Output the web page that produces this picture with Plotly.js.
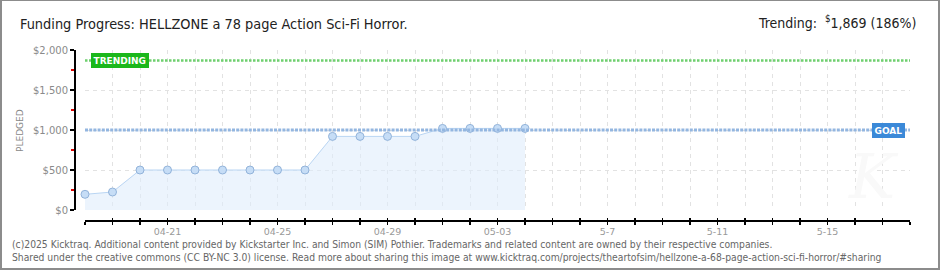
<!DOCTYPE html>
<html>
<head>
<meta charset="utf-8">
<script src="https://cdn.plot.ly/plotly-3.0.1.min.js"></script>
<style>
html,body{margin:0;padding:0;background:#fff;}
#wrap{position:relative;width:940px;height:270px;}
#chart{position:absolute;left:0;top:0;width:940px;height:270px;}
#frame{position:absolute;left:0;top:0;width:940px;height:270px;box-sizing:border-box;border-style:solid;border-color:#8c8c8c;border-width:1px 2px 2px 2px;pointer-events:none;}
</style>
</head>
<body>
<div id="wrap"><div id="chart"></div><div id="frame"></div></div>
<script>
// ---- data ----
const dates = ["2025-04-18","2025-04-19","2025-04-20","2025-04-21","2025-04-22","2025-04-23","2025-04-24","2025-04-25","2025-04-26","2025-04-27","2025-04-28","2025-04-29","2025-04-30","2025-05-01","2025-05-02","2025-05-03","2025-05-04"];
const pledged = [196,225,500,500,500,500,500,500,500,920,920,920,920,1020,1020,1020,1020];
const goal = 1000;
const trending = 1869;
const xRange = ["2025-04-18","2025-05-18"];
const tickDates = ["2025-04-21","2025-04-25","2025-04-29","2025-05-03","2025-05-07","2025-05-11","2025-05-15"];
const tickLabels = ["04-21","04-25","04-29","05-03","5-7","5-11","5-15"];
const yTicks = [0,500,1000,1500,2000];
const yTickLabels = ["$0","$500","$1,000","$1,500","$2,000"];
const titleText = "Funding Progress: HELLZONE a 78 page Action Sci-Fi Horror.";
const trendText = "Trending:  <sup>$</sup>1,869 (186%)";
const footer1 = "(c)2025 Kicktraq. Additional content provided by Kickstarter Inc. and Simon (SIM) Pothier. Trademarks and related content are owned by their respective companies.";
const footer2 = "Shared under the creative commons (CC BY-NC 3.0) license. Read more about sharing this image at www.kicktraq.com/projects/theartofsim/hellzone-a-68-page-action-sci-fi-horror/#sharing";

const W = 940, H = 270;
const L = 75, R = 30, T = 50, B = 49;
const pw = W - L - R, ph = H - T - B;
const px = x => (x - L) / pw;
const py = y => (H - B - y) / ph;
const dx = x => (x - 85) / (910 - 85);

const gridStyle = {gridcolor:"#e2e2e2", griddash:"4px,4px", gridwidth:1};

const traces = [
  {
    type:"scatter", mode:"lines+markers", x:dates, y:pledged,
    line:{color:"#b9d5f3", width:1},
    marker:{size:8, color:"#c6ddf6", line:{color:"#92b3da", width:1}},
    fill:"tozeroy", fillcolor:"rgba(224,236,251,0.6)",
    cliponaxis:false, hoverinfo:"skip", xaxis:"x", yaxis:"y"
  },
  {type:"scatter", mode:"lines", x:[], y:[], xaxis:"x2", yaxis:"y", showlegend:false}
];

const layout = {
  width:W, height:H,
  margin:{l:L, r:R, t:T, b:B},
  paper_bgcolor:"#fff", plot_bgcolor:"#fff",
  showlegend:false,
  font:{family:"DejaVu Sans", color:"#888"},
  title:{text:titleText, x:20/W, xanchor:"left", xref:"container", y:1-24/H, yanchor:"middle", yref:"container",
         font:{family:"DejaVu Sans Condensed", size:14.4, color:"#222"}},
  xaxis:{
    type:"date", range:xRange, domain:[px(85),1], anchor:"free", position:0,
    tickmode:"array", tickvals:tickDates, ticktext:tickLabels,
    ticks:"outside", ticklen:3, tickwidth:1.5, tickcolor:"#000",
    showline:true, linecolor:"#000", linewidth:2,
    tickfont:{family:"DejaVu Sans", size:9.5, color:"#999"}, ticklabelstandoff:-1,
    showgrid:true, ...gridStyle, zeroline:false,
    minor:{tickmode:"linear", tick0:"2025-04-18", dtick:86400000, ticks:"outside", ticklen:3, tickwidth:1.5, tickcolor:"#000", showgrid:true, ...gridStyle}
  },
  xaxis2:{
    type:"date", range:xRange, domain:[px(85),1], anchor:"free", position:0, overlaying:"x",
    tickmode:"array", tickvals:tickDates, ticktext:tickLabels, showticklabels:false,
    ticks:"inside", ticklen:3, tickwidth:1.5, tickcolor:"#000",
    showline:false, showgrid:false, zeroline:false,
    minor:{tickmode:"linear", tick0:"2025-04-18", dtick:86400000, ticks:"inside", ticklen:3, tickwidth:1.5, tickcolor:"#000", showgrid:false}
  },
  yaxis:{
    range:[0,2000], domain:[py(210),1], anchor:"free", position:0,
    tickmode:"array", tickvals:yTicks, ticktext:yTickLabels,
    ticks:"outside", ticklen:4, tickwidth:1.5, tickcolor:"#000",
    showline:true, linecolor:"#000", linewidth:2,
    tickfont:{family:"DejaVu Sans", size:10, color:"#8a8a8a"},
    showgrid:true, ...gridStyle, zeroline:false,
    minor:{tickmode:"linear", tick0:250, dtick:500, ticks:"outside", ticklen:3, tickwidth:1.5, tickcolor:"#e00000", showgrid:false}
  },
  shapes:[
    {type:"line", xref:"x domain", x0:0, x1:1, yref:"y", y0:trending, y1:trending,
     line:{color:"#6fcf6f", width:2.5, dash:"2.5px,1.5px"}, layer:"above"},
    {type:"line", xref:"x domain", x0:0, x1:1, yref:"y", y0:goal, y1:goal,
     line:{color:"#93b6e0", width:3, dash:"3px,1.2px"}, layer:"above"}
  ],
  annotations:[
    {xref:"paper", x:px(873), yref:"paper", y:py(176), text:"<i>K</i>", showarrow:false,
     font:{family:"DejaVu Serif", size:62, color:"#f9f9f9"}, xanchor:"center", yanchor:"middle"},
    {xref:"x domain", x:dx(120), yref:"y", y:trending, text:"<b>TRENDING</b>", showarrow:false,
     font:{family:"DejaVu Sans", size:9, color:"#fff"}, bgcolor:"#1bb71b", bordercolor:"#1bb71b", borderpad:1.5, xanchor:"center", yanchor:"middle"},
    {xref:"x domain", x:dx(888), yref:"y", y:goal, text:"<b>GOAL</b>", showarrow:false,
     font:{family:"DejaVu Sans", size:9, color:"#fff"}, bgcolor:"#3b89d8", bordercolor:"#3b89d8", borderpad:1.5, xanchor:"center", yanchor:"middle"},
    {xref:"paper", x:px(20), yref:"paper", y:py(130), text:"PLEDGED", textangle:-90, showarrow:false,
     font:{family:"DejaVu Sans", size:9, color:"#888"}, xanchor:"center", yanchor:"middle"},
    {xref:"paper", x:px(918), yref:"paper", y:py(22), text:trendText, showarrow:false,
     font:{family:"DejaVu Sans Condensed", size:14, color:"#222"}, xanchor:"right", yanchor:"middle"},
    {xref:"paper", x:px(10), yref:"paper", y:py(244), text:footer1, showarrow:false,
     font:{family:"DejaVu Sans Condensed", size:10.25, color:"#666"}, xanchor:"left", yanchor:"middle"},
    {xref:"paper", x:px(10), yref:"paper", y:py(257), text:footer2, showarrow:false,
     font:{family:"DejaVu Sans Condensed", size:10.25, color:"#666"}, xanchor:"left", yanchor:"middle"}
  ]
};

Plotly.newPlot("chart", traces, layout, {staticPlot:true, displayModeBar:false});
</script>
</body>
</html>
